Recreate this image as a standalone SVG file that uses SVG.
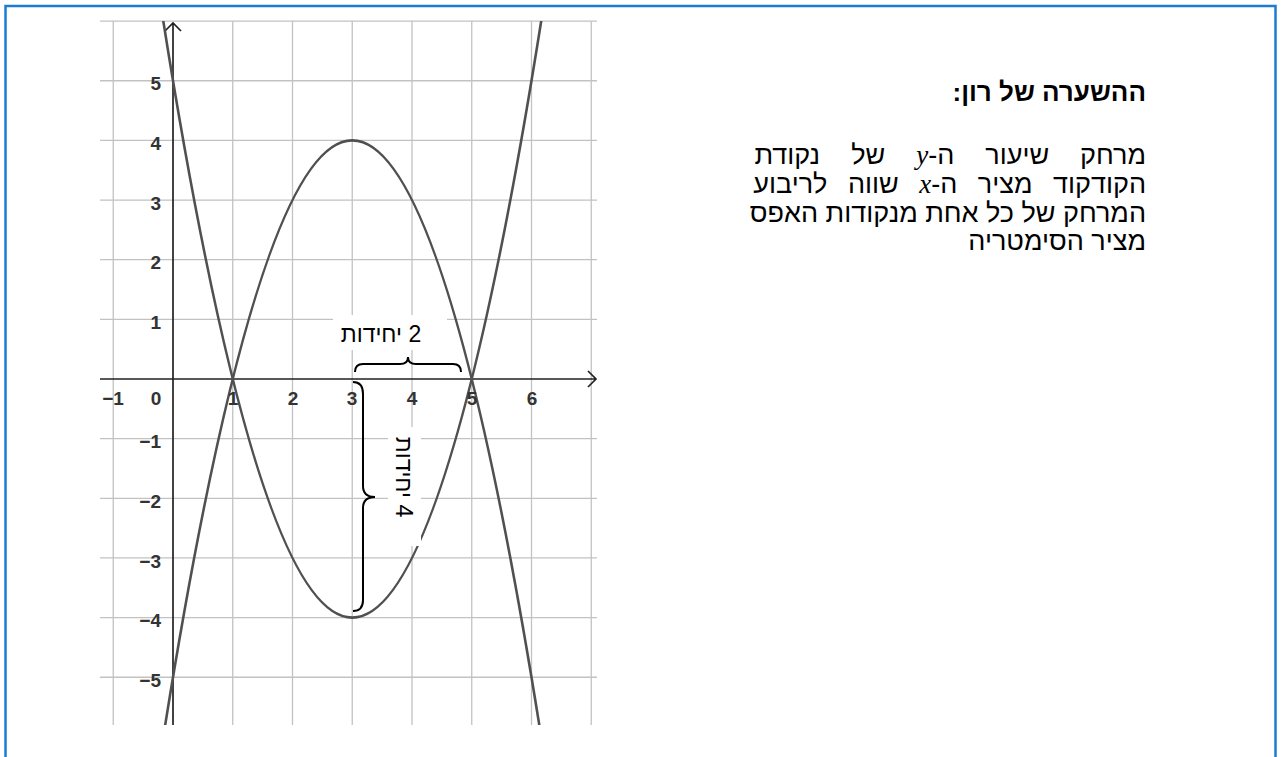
<svg xmlns="http://www.w3.org/2000/svg" width="1283" height="757" viewBox="0 0 1283 757">
<style>
.grid{stroke:#c2c2c2;stroke-width:1.3;fill:none}
.axis{stroke:#222;stroke-width:1.7;fill:none}
.curve{stroke:#505050;stroke-width:2.6;fill:none}
.brace{stroke:#000;stroke-width:2;fill:none}
.num{font-family:"Liberation Sans",Arial,sans-serif;font-weight:bold;font-size:19px;fill:#333}
.lbl{font-family:"Liberation Sans",Arial,sans-serif;font-size:23px;fill:#000}
.ttl{font-family:"Liberation Sans",Arial,sans-serif;font-weight:bold;font-size:26px;fill:#000}
.par{font-family:"Liberation Sans",Arial,sans-serif;font-size:27px;fill:#000}
.m{font-family:"Liberation Serif","DejaVu Serif",serif;font-style:italic}
</style>
<defs>
<clipPath id="plot"><rect x="100" y="21" width="497" height="704"/></clipPath>
</defs>
<rect x="0" y="0" width="1283" height="757" fill="#fff"/>
<rect id="frame" x="5.5" y="6" width="1270" height="800" fill="none" stroke="#1b7cd3" stroke-width="2.5"/>

<g id="grid">
<path class="grid" d="M113.25,21V725M232.75,21V725M292.5,21V725M352.25,21V725M412,21V725M471.75,21V725M531.5,21V725M591.25,21V725"/>
<path class="grid" d="M100,21.1H597M100,80.75H597M100,140.4H597M100,200.05H597M100,259.7H597M100,319.35H597M100,438.65H597M100,498.3H597M100,557.95H597M100,617.6H597M100,677.25H597"/>
</g>

<g id="axes">
<path class="axis" d="M100,379H596M588,371L596,379L588,387"/>
<path class="axis" d="M173,725V23M165,31L173,23L181,31"/>
</g>

<g id="curves" clip-path="url(#plot)">
<path class="curve" d="M161.05,6.8Q352.25,1228.4 543.45,6.8"/>
<path class="curve" d="M161.05,751.2Q352.25,-470.4 543.45,751.2"/>
</g>

<g id="ylabels" class="num" text-anchor="end">
<text x="161" y="90">5</text>
<text x="161" y="150">4</text>
<text x="161" y="209.5">3</text>
<text x="161" y="269">2</text>
<text x="161" y="329">1</text>
<text x="161" y="448">−1</text>
<text x="161" y="508">−2</text>
<text x="161" y="567.5">−3</text>
<text x="161" y="627">−4</text>
<text x="161" y="687">−5</text>
</g>
<g id="xlabels" class="num" text-anchor="middle">
<text x="113" y="405">−1</text>
<text x="156" y="405">0</text>
<text x="233" y="405">1</text>
<text x="293" y="405">2</text>
<text x="352" y="405">3</text>
<text x="412" y="405">4</text>
<text x="472" y="405">5</text>
<text x="532" y="405">6</text>
</g>

<g id="brace-horizontal">
<rect x="333" y="315" width="114" height="35" fill="#fff"/>
<text class="lbl" x="381" y="342" text-anchor="middle" direction="rtl">2 יחידות</text>
<path class="brace" d="M355,372Q355,364 363,364L400,364Q408,364 408,357Q408,364 416,364L453,364Q461,364 461,372"/>
</g>

<g id="brace-vertical">
<rect x="388" y="427" width="33" height="119" fill="#fff"/>
<text class="lbl" transform="translate(396,477) rotate(90)" x="0" y="0" text-anchor="middle" direction="rtl">4 יחידות</text>
<path class="brace" d="M353,382Q363,382 363,394L363,486Q363,497 375,497Q363,497 363,508L363,600Q363,611 353,611"/>
</g>

<g id="note">
<text class="ttl" x="1146" y="101" direction="rtl" text-anchor="start">ההשערה של רון:</text>
<text class="par" x="1146" y="164" direction="rtl" text-anchor="start" word-spacing="23.5">מרחק שיעור ה-<tspan class="m">y</tspan> של נקודת</text>
<text class="par" x="1146" y="193" direction="rtl" text-anchor="start" word-spacing="13">הקודקוד מציר ה-<tspan class="m">x</tspan> שווה לריבוע</text>
<text class="par" x="1146" y="222" direction="rtl" text-anchor="start">המרחק של כל אחת מנקודות האפס</text>
<text class="par" x="1146" y="250" direction="rtl" text-anchor="start">מציר הסימטריה</text>
</g>
</svg>
